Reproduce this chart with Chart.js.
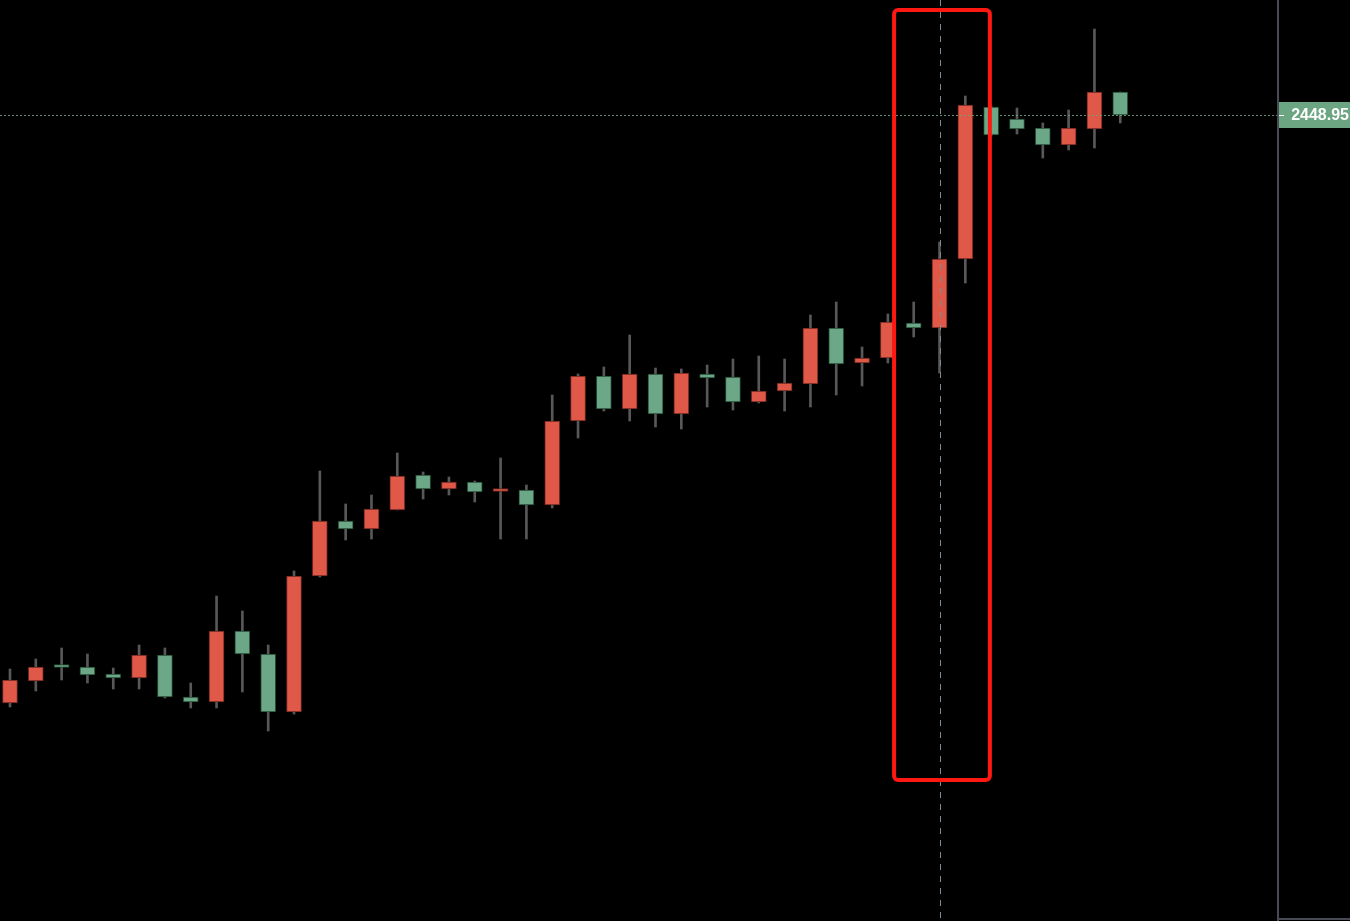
<!DOCTYPE html>
<html>
<head>
<meta charset="utf-8">
<script src="https://cdn.jsdelivr.net/npm/chart.js@4.4.1/dist/chart.umd.min.js"></script>
<style>
  html, body { margin: 0; padding: 0; background: #000; }
  #wrap { width: 1350px; height: 921px; position: relative; }
</style>
</head>
<body>
<div id="wrap"><canvas id="candles"></canvas></div>
<script>
// OHLC, one entry per candle (oldest first)
const opens = [2390.15, 2392.35, 2393.75, 2393.75, 2393.05, 2392.65, 2394.95, 2390.75, 2390.25, 2397.35,
  2395.05, 2389.25, 2402.85, 2408.35, 2407.55, 2409.45, 2412.95, 2411.55, 2412.25, 2411.30,
  2411.45, 2409.95, 2418.35, 2422.85, 2419.55, 2423.05, 2419.05, 2423.05, 2422.75, 2420.25,
  2421.35, 2422.05, 2427.65, 2424.15, 2424.65, 2428.15, 2427.65, 2434.55, 2449.75, 2448.55,
  2447.65, 2445.95, 2447.55, 2451.25];
const highs = [2393.55, 2394.55, 2395.65, 2395.05, 2393.65, 2395.95, 2395.65, 2392.15, 2400.85, 2399.35,
  2395.95, 2403.35, 2413.35, 2410.05, 2410.95, 2415.15, 2413.25, 2412.75, 2412.35, 2414.65,
  2411.95, 2420.95, 2423.05, 2423.75, 2426.95, 2423.65, 2423.55, 2423.95, 2424.55, 2424.85,
  2424.55, 2428.95, 2430.25, 2425.75, 2429.05, 2430.25, 2436.25, 2450.85, 2449.85, 2449.65,
  2448.15, 2449.45, 2457.55, 2451.25];
const lows = [2389.75, 2391.35, 2392.45, 2392.15, 2391.55, 2391.55, 2390.65, 2389.65, 2389.65, 2391.25,
  2387.35, 2389.05, 2402.75, 2406.45, 2406.55, 2409.45, 2410.55, 2410.95, 2410.25, 2406.55,
  2406.55, 2409.65, 2416.65, 2419.35, 2418.35, 2417.75, 2417.55, 2419.75, 2419.45, 2420.15,
  2419.35, 2419.75, 2420.95, 2421.85, 2424.15, 2426.75, 2423.15, 2432.15, 2446.85, 2447.05,
  2444.65, 2445.45, 2445.65, 2448.15];
const closes = [2392.45, 2393.75, 2393.70, 2392.95, 2392.65, 2394.95, 2390.75, 2390.25, 2397.35, 2395.05,
  2389.25, 2402.85, 2408.35, 2407.55, 2409.55, 2412.85, 2411.55, 2412.25, 2411.25, 2411.35,
  2409.95, 2418.35, 2422.85, 2419.55, 2423.05, 2419.05, 2423.15, 2422.65, 2420.25, 2421.35,
  2422.15, 2427.65, 2424.05, 2424.65, 2428.25, 2427.65, 2434.55, 2449.95, 2446.95, 2447.55,
  2445.95, 2447.65, 2451.25, 2448.95];

const lastPrice = 2448.95;
const markedCandle = 36;                  // dashed cursor line
const boxRange = { x0: 34.24, x1: 37.95, top: 2459.45, bottom: 2382.45 };  // red highlight box

const upFill = 'rgb(224,89,72)', upLine = 'rgb(105,36,28)';
const downFill = 'rgb(108,168,135)', downLine = 'rgb(32,72,48)';

const idx = opens.map((_, i) => i);
const bodies = idx.map(i => ({ x: i, y: [Math.min(opens[i], closes[i]), Math.max(opens[i], closes[i])] }));
const wicks = idx.map(i => ({ x: i, y: [lows[i], highs[i]] }));
const isUp = idx.map(i => closes[i] >= opens[i]);

const overlay = {
  id: 'overlay',
  afterDatasetsDraw(chart) {
    const { ctx, chartArea: a, scales: { x, y } } = chart;
    ctx.save();
    // last price dotted line
    const py = Math.round(y.getPixelForValue(lastPrice)) + 0.5;
    ctx.strokeStyle = 'rgba(110,160,130,0.9)';
    ctx.lineWidth = 1;
    ctx.setLineDash([2, 2]);
    ctx.beginPath(); ctx.moveTo(a.left, py); ctx.lineTo(a.right, py); ctx.stroke();
    // cursor dashed vertical
    const cx = Math.round(x.getPixelForValue(markedCandle)) + 0.5;
    ctx.strokeStyle = 'rgb(125,138,152)';
    ctx.setLineDash([6, 6]);
    ctx.beginPath(); ctx.moveTo(cx, 0); ctx.lineTo(cx, chart.height); ctx.stroke();
    ctx.setLineDash([]);
    // red highlight box
    const bx0 = x.getPixelForValue(boxRange.x0), bx1 = x.getPixelForValue(boxRange.x1);
    const by0 = y.getPixelForValue(boxRange.top), by1 = y.getPixelForValue(boxRange.bottom);
    ctx.strokeStyle = 'rgb(255,24,18)';
    ctx.lineWidth = 4;
    ctx.beginPath();
    ctx.roundRect(bx0, by0, bx1 - bx0, by1 - by0, 4);
    ctx.stroke();
    ctx.restore();
  },
  afterDraw(chart) {
    const { ctx, chartArea: a, scales: { y } } = chart;
    ctx.save();
    // price axis borders
    ctx.fillStyle = 'rgb(72,75,85)';
    ctx.fillRect(a.right - 1, 0, 2, chart.height);
    ctx.fillRect(a.right - 1, chart.height - 3, chart.width - a.right + 1, 2);
    // last price tag
    const py = Math.round(y.getPixelForValue(lastPrice));
    ctx.fillStyle = 'rgb(108,165,130)';
    ctx.fillRect(a.right + 1, py - 13, chart.width - a.right - 1, 26);
    ctx.fillStyle = '#fff';
    ctx.fillRect(a.right + 1, py, 5, 1);
    ctx.font = 'bold 16px "Liberation Sans", Arial, sans-serif';
    ctx.textAlign = 'right';
    ctx.textBaseline = 'middle';
    ctx.fillText(lastPrice.toFixed(2), chart.width - 1, py + 1);
    ctx.restore();
  }
};

new Chart(document.getElementById('candles'), {
  type: 'bar',
  data: {
    datasets: [
      {
        label: 'body',
        data: bodies,
        order: 0,
        barThickness: 15,
        minBarLength: 3,
        backgroundColor: isUp.map(u => (u ? upFill : downFill)),
        borderColor: isUp.map(u => (u ? upLine : downLine)),
        borderWidth: 1,
        borderSkipped: false,
      },
      {
        label: 'wick',
        data: wicks,
        order: 1,
        barThickness: 2,
        backgroundColor: 'rgb(88,88,88)',
        borderWidth: 0,
      },
    ],
  },
  plugins: [overlay],
  options: {
    animation: false,
    maintainAspectRatio: false,
    responsive: true,
    layout: { padding: { left: 0, top: 0, bottom: 0, right: 72 } },
    plugins: { legend: { display: false }, tooltip: { enabled: false } },
    scales: {
      x: {
        type: 'linear',
        display: false,
        offset: false,
        min: -0.387,
        max: 49.109,
        stacked: false,
      },
      y: {
        display: false,
        min: 2368.35,
        max: 2460.45,
      },
    },
    datasets: { bar: { grouped: false } },
  },
});
</script>
</body>
</html>
